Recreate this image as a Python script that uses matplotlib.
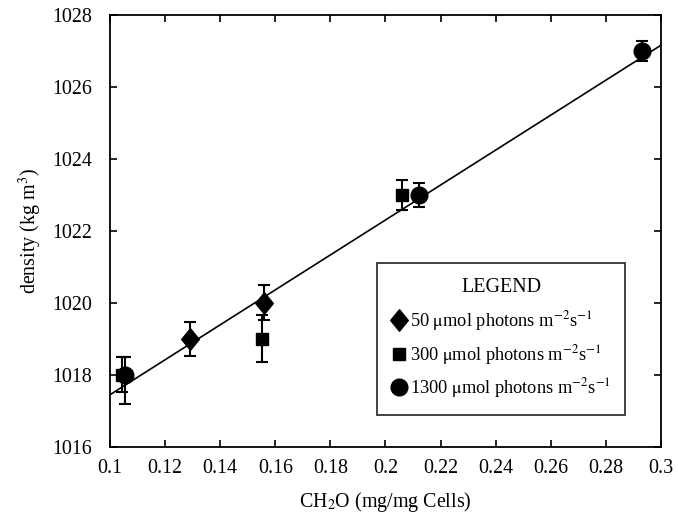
import numpy as np
import matplotlib
matplotlib.use("Agg")
import matplotlib.pyplot as plt
from matplotlib.lines import Line2D
from matplotlib.path import Path

plt.rcParams['font.family'] = ['Liberation Serif', 'DejaVu Serif']
plt.rcParams['mathtext.fontset'] = 'stix'

# data
x50 = [0.129, 0.156]
y50 = [1019, 1020]
e50 = [0.47, 0.48]

x300 = [0.1045, 0.155, 0.206]
y300 = [1018, 1019, 1023]
e300 = [0.49, 0.65, 0.42]

x1300 = [0.1054, 0.212, 0.293]
y1300 = [1018, 1023, 1027]
e1300_lo = [0.82, 0.33, 0.29]
e1300_hi = [0.49, 0.33, 0.29]

fit_x = [0.1, 0.3]
fit_y = [1017.44, 1027.16]

xticks = np.arange(0.1, 0.301, 0.02)
xticklabels = ['0.1', '0.12', '0.14', '0.16', '0.18', '0.2', '0.22', '0.24', '0.26', '0.28', '0.3']
yticks = [1016, 1018, 1020, 1022, 1024, 1026, 1028]

labels = [r'50 $\mathrm{\mu}$mol photons m$^{-2}$s$^{-1}$',
          r'300 $\mathrm{\mu}$mol photons m$^{-2}$s$^{-1}$',
          r'1300 $\mathrm{\mu}$mol photons m$^{-2}$s$^{-1}$']

# slightly tall diamond like the original
diamond = Path([(0, 1), (0.82, 0), (0, -1), (-0.82, 0), (0, 1)],
               [Path.MOVETO, Path.LINETO, Path.LINETO, Path.LINETO, Path.CLOSEPOLY])

fig = plt.figure(figsize=(6.78, 5.25), dpi=100)
ax = fig.add_axes([110/678, 1 - 446.5/525, (661-110)/678, (446.5-15)/525])

ax.plot(fit_x, fit_y, color='black', lw=1.2, zorder=1)

kw = dict(color='black', ecolor='black', elinewidth=1.5, capsize=4.5, capthick=1.5, linestyle='none')
ax.errorbar(x50, y50, yerr=e50, marker=diamond, markersize=15.5, **kw)
ax.errorbar(x300, y300, yerr=e300, marker='s', markersize=8.5, **kw)
ax.errorbar(x1300, y1300, yerr=[e1300_lo, e1300_hi], marker='o', markersize=12, **kw)

ax.set_xlim(0.1, 0.3)
ax.set_ylim(1016, 1028)
ax.set_xticks(xticks)
ax.set_xticklabels(xticklabels)
ax.set_yticks(yticks)
ax.tick_params(direction='in', top=True, right=True, labelsize=14.4, length=5, width=1.2)
ax.tick_params(axis='y', pad=13)
ax.tick_params(axis='x', pad=9)
for s in ax.spines.values():
    s.set_linewidth(1.3)

ax.set_xlabel('CH$_2$O (mg/mg Cells)', fontsize=14.4, labelpad=9)
ax.set_ylabel('density (kg m$^{3}$)', fontsize=14.4, labelpad=6)

handles = [Line2D([], [], color='black', marker=diamond, markersize=15.5, linestyle='none'),
           Line2D([], [], color='black', marker='s', markersize=8.5, linestyle='none'),
           Line2D([], [], color='black', marker='o', markersize=12, linestyle='none')]
leg = ax.legend(handles, labels, title='LEGEND', loc='lower left', bbox_to_anchor=(0.484, 0.073),
                fontsize=13.2, title_fontsize=14.4, frameon=True, fancybox=False,
                handletextpad=0.15, handlelength=0.85, borderpad=0.8, labelspacing=0.52,
                borderaxespad=0)
leg._legend_box.sep = 9
leg.get_frame().set_edgecolor('black')
leg.get_frame().set_linewidth(1.3)

fig.savefig('out.png', dpi=100)
